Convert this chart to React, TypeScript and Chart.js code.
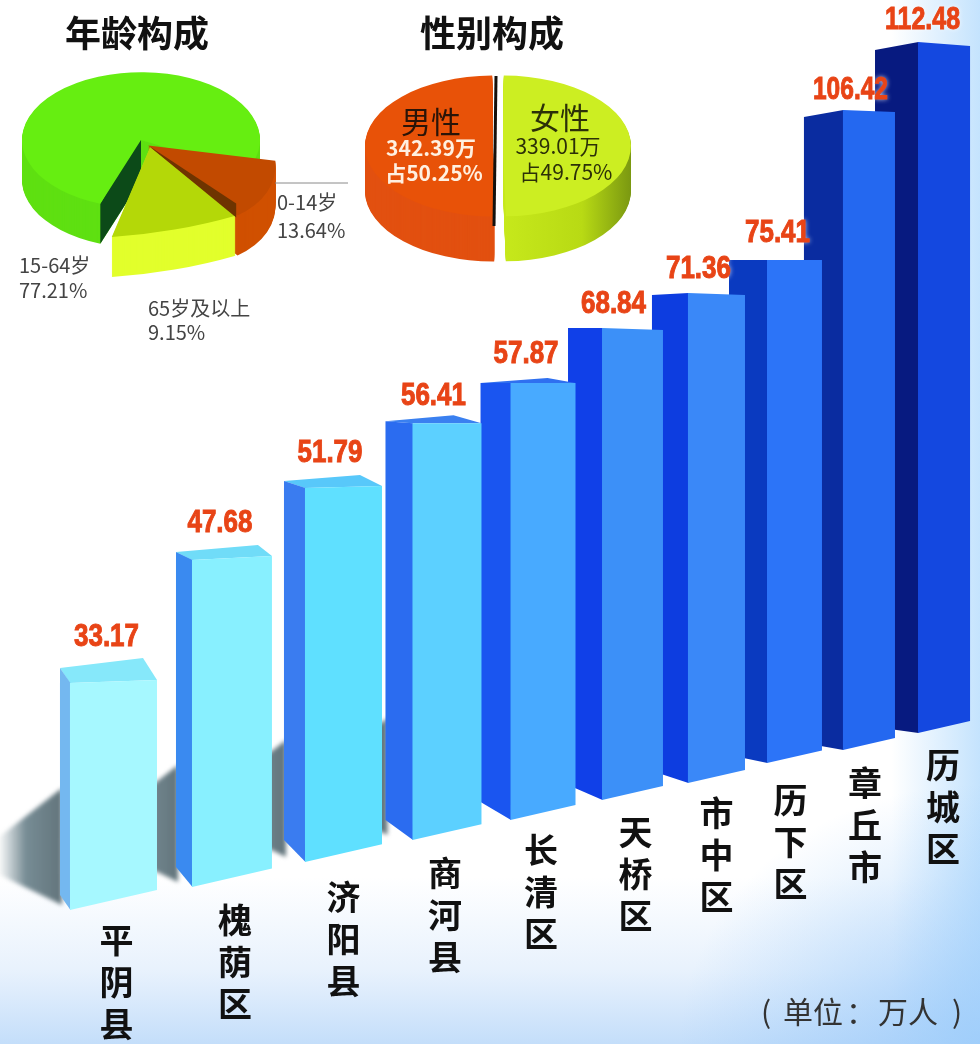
import React, { useEffect, useRef } from "react";
import { Chart, registerables, BarController, BarElement } from "chart.js";

// ---------- data ----------
const districts = ["平阴县", "槐荫区", "济阳县", "商河县", "长清区", "天桥区", "市中区", "历下区", "章丘市", "历城区"];
const population = [33.17, 47.68, 51.79, 56.41, 57.87, 68.84, 71.36, 75.41, 106.42, 112.48];
// as drawn in the perspective picture, in axis units
const floorPositions = [11.58, 23.67, 35.05, 45.61, 55.41, 64.54, 73.11, 81.07, 88.67, 96.33];
const floorWidths = [8.88, 8.16, 7.86, 7.04, 6.63, 6.22, 5.82, 5.61, 5.31, 5.31];
const barFloors = [19.25, 22.56, 26.15, 29.31, 32.18, 35.06, 37.5, 40.37, 42.24, 44.68];
const barTops = [51.87, 69.54, 79.89, 89.2, 94.97, 102.87, 107.9, 112.64, 134.2, 143.97];

const ageLabels = ["15-64岁", "0-14岁", "65岁及以上"];
const agePercent = [77.21, 13.64, 9.15];
const genderLabels = ["女性", "男性"];
const genderPercent = [49.75, 50.25];
const genderCount = ["339.01万", "342.39万"];

// ---------- styles ----------
const frontColors = ["#a6f8ff", "#88f0ff", "#5fe0ff", "#5cd0ff", "#48aaff", "#3c90f8", "#3a88f8", "#2c74f8", "#2468f0", "#1448e0"];
const sideColors = ["#74b8f0", "#3a8af0", "#3a7cf0", "#2b6cf0", "#1a55f0", "#1040e8", "#0d3de0", "#0a3ac0", "#0a2ca0", "#071a80"];
const topColors = ["#86e8fa", "#70dcf8", "#58c8fa", "#3a80f0", "#2f70f0", "", "", "", "", ""];
const sideWidths = [10, 16, 21, 27, 30, 34, 36, 38, 39, 43];
const sideTopDrop = [-15, -8, -7, -2, 0, 0, 2, 0, 7, 8];
const frontTilt = [-3, -4, -2, 0, 0, 2, 2, 0, 2, 4];
const backShift = [[-14, -22], [-14, -11], [-22, -11], [-28, -8], [-28, -5], null, null, null, null, null];
const sideFloorRise = [15, 20, 22, 20, 18, 15, 12, 8, 7, 6];
const valueGap = [48, 39, 37, 29, 31, 26, 26, 29, 22, 24];
const valueShift = [-2, -4, -3, 0, -2, -2, 0, 2, 1, 0];
const nameDrop = [30, 33, 35, 33, 30, 32, 30, 37, 33, 32];
const nameShift = [3, 3, 0, -2, -2, 3, 0, -4, -4, -1];

class Bar3D extends BarElement {
  static id = "bar3d";
  draw(ctx: CanvasRenderingContext2D) {
    const self = this as any;
    const idx = self.$context.dataIndex;
    const i = districts.length - 1 - idx;
    const xs = self.$context.chart.scales.x;
    const w = xs.getPixelForValue(floorWidths[i]) - xs.getPixelForValue(0);
    const L = self.x - w / 2;
    const R = self.x + w / 2;
    const top = self.y;
    const floor = self.base;
    const slant = w * 0.23;
    const sx = L - sideWidths[i];
    const poly = (pts: number[][], fill: any) => {
      ctx.beginPath();
      pts.forEach((p, k) => (k ? ctx.lineTo(p[0], p[1]) : ctx.moveTo(p[0], p[1])));
      ctx.closePath();
      ctx.fillStyle = fill;
      ctx.fill();
    };
    ctx.save();
    if (i < 4) {
      // cast shadow, to the left of the bar
      const g = ctx.createLinearGradient(sx - 62, 0, sx, 0);
      g.addColorStop(0, "rgba(95,120,130,0)");
      g.addColorStop(0.45, "rgba(95,120,130,0.85)");
      g.addColorStop(1, "rgba(100,118,125,1)");
      (ctx as any).filter = "blur(2px)";
      poly([[sx + 2, floor - 122], [sx - 62, floor - 72], [sx - 62, floor - 36], [sx + 2, floor - 5]], g);
      (ctx as any).filter = "none";
    }
    const sTop = top + sideTopDrop[i];
    const b = backShift[i];
    if (b) {
      poly([[sx, sTop], [L, top], [R, top + frontTilt[i]], [R + b[0], top + frontTilt[i] + b[1]]], topColors[i]);
    }
    poly([[sx, sTop], [L + 0.5, top], [L + 0.5, floor], [sx, floor - sideFloorRise[i]]], sideColors[i]);
    poly([[L, top], [R, top + frontTilt[i]], [R, floor - slant], [L, floor]], frontColors[i]);
    ctx.restore();
  }
}

class Bar3DController extends BarController {
  static id = "bar3d";
  static defaults = { ...(BarController as any).defaults, dataElementType: "bar3d" };
  static overrides = (BarController as any).overrides;
}

Chart.register(...registerables, Bar3D as any, Bar3DController as any);

const CJK = '"Noto Sans CJK SC"';

const barText = {
  id: "barText",
  afterDatasetsDraw(chart: any) {
    const ctx = chart.ctx;
    const meta = chart.getDatasetMeta(0);
    ctx.save();
    ctx.textAlign = "center";
    ctx.textBaseline = "middle";
    meta.data.forEach((el: any, idx: number) => {
      const i = districts.length - 1 - idx;
      const text = population[i].toFixed(2);
      const tx = el.x - sideWidths[i] / 2 + valueShift[i];
      const ty = el.y - valueGap[i] + 2;
      const tw = text.length * 10 + 15;
      ctx.save();
      ctx.font = "bold 32px 'Liberation Sans'";
      ctx.fillStyle = "#e84416";
      ctx.strokeStyle = "#e84416";
      ctx.lineWidth = 1;
      ctx.shadowColor = "rgba(255,255,255,0.9)";
      ctx.shadowBlur = 5;
      ctx.fillText(text, tx, ty, tw);
      ctx.shadowBlur = 0;
      ctx.strokeText(text, tx, ty, tw);
      ctx.restore();
      ctx.font = `bold 34px ${CJK}`;
      ctx.fillStyle = "#111";
      Array.from(districts[i]).forEach((ch, k) => {
        ctx.fillText(ch, el.x + nameShift[i], el.base + nameDrop[i] + k * 42);
      });
    });
    ctx.font = `30px ${CJK}`;
    ctx.fillStyle = "#333";
    ctx.textAlign = "left";
    ctx.fillText("(", 761, 1012);
    ctx.fillText("单位", 783, 1012);
    ctx.fillText("：", 846, 1012);
    ctx.fillText("万人", 878, 1012);
    ctx.fillText(")", 952, 1012);
    ctx.restore();
  },
};

type PieCfg = {
  k: number;
  depth: number;
  sideFills: (ctx: CanvasRenderingContext2D) => any[];
  spread?: (number[] | null)[];
  offsets: number[];
  wall?: (ctx: CanvasRenderingContext2D, chart: any) => void;
  after: (ctx: CanvasRenderingContext2D, chart: any) => void;
};

// perspective foreshortening: draw a slice through an affine map about its apex
const apexOf = (el: any, off: number) => {
  const mid = (el.startAngle + el.endAngle) / 2;
  return [el.x + Math.cos(mid) * off, el.y + Math.sin(mid) * off];
};

const pie3d = (cfg: PieCfg) => {
  let patched = false;
  return {
    id: "pie3d",
    beforeDatasetsDraw(chart: any) {
      const ctx = chart.ctx;
      const arcs = chart.getDatasetMeta(0).data;
      const cx = arcs[0].x;
      const cy = arcs[0].y;
      if (!patched && cfg.spread) {
        patched = true;
        arcs.forEach((el: any, s: number) => {
          const m = cfg.spread![s];
          if (!m) return;
          const base = el.draw.bind(el);
          el.draw = (c: any) => {
            const [ax, ay] = apexOf(el, cfg.offsets[s] / 4);
            c.save();
            c.translate(ax + (m[4] || 0), ay + (m[5] || 0) / cfg.k);
            c.transform(m[0], m[1] / cfg.k, m[2] * cfg.k, m[3], 0, 0);
            c.translate(-ax, -ay);
            base(c);
            c.restore();
          };
        });
      }
      ctx.save();
      ctx.translate(cx, cy);
      ctx.scale(1, cfg.k);
      ctx.translate(-cx, -cy);
      const fills = cfg.sideFills(ctx);
      arcs.forEach((el: any, s: number) => {
        const orig = el.options;
        el.options = Object.assign({}, orig, { backgroundColor: fills[s], borderWidth: 0 });
        for (let d = cfg.depth; d > 0; d -= 1) {
          ctx.save();
          ctx.translate(0, d / cfg.k);
          el.draw(ctx);
          ctx.restore();
        }
        el.options = orig;
        if (cfg.wall && s === 0) cfg.wall(ctx, chart);
      });
    },
    afterDatasetsDraw(chart: any) {
      const ctx = chart.ctx;
      ctx.restore();
      cfg.after(ctx, chart);
    },
  };
};

const drawText = (ctx: any, s: string, x: number, y: number, font: string, color: string, align: CanvasTextAlign = "center") => {
  ctx.font = font;
  ctx.fillStyle = color;
  ctx.textAlign = align;
  ctx.textBaseline = "middle";
  ctx.fillText(s, x, y);
};

const AGE_K = 0.57;
const AGE_DEPTH = 40;
const GENDER_K = 0.55;
const GENDER_DEPTH = 45;
const AGE_OFFSETS = [0, 48, 56];
const AGE_SPREAD = [null, [0.891, -0.198, 0.953, 1.115], [1.774, -0.348, 0.535, 1.121, 10, -1]];

const agePlugin = pie3d({
  k: AGE_K,
  depth: AGE_DEPTH,
  offsets: AGE_OFFSETS,
  spread: AGE_SPREAD,
  sideFills: () => ["#5fe012", "#d05000", "#e2ff2c"],
  wall: (ctx, chart) => {
    const el = chart.getDatasetMeta(0).data[0];
    const d = AGE_DEPTH / AGE_K;
    const rx = el.x + Math.cos(el.startAngle) * el.outerRadius;
    const ry = el.y + Math.sin(el.startAngle) * el.outerRadius;
    ctx.beginPath();
    ctx.moveTo(el.x, el.y - 10);
    ctx.lineTo(rx, ry);
    ctx.lineTo(rx, ry + d);
    ctx.lineTo(el.x, el.y + d);
    ctx.closePath();
    ctx.fillStyle = "#0c4a18";
    ctx.fill();
  },
  after: (ctx, chart) => {
    // dark inner edge of the red slice, along its border with the yellow one
    const red = chart.getDatasetMeta(0).data[1];
    const m = AGE_SPREAD[1] as number[];
    const off = AGE_OFFSETS[1] / 4;
    const [ax, ayU] = apexOf(red, off);
    const ay = red.y + (ayU - red.y) * AGE_K;
    const r = red.outerRadius + off * 0.245;
    const ex = Math.cos(red.endAngle) * r;
    const ey = Math.sin(red.endAngle) * r * AGE_K;
    const px = ax + m[0] * ex + m[2] * ey;
    const py = ay + m[1] * ex + m[3] * ey;
    ctx.beginPath();
    ctx.moveTo(ax, ay);
    ctx.lineTo(px - 1, py - 12);
    ctx.lineTo(px - 1, py + 2);
    ctx.closePath();
    ctx.fillStyle = "#6e3400";
    ctx.fill();

    drawText(ctx, "年龄构成", 137, 33, `bold 36px ${CJK}`, "#111");
    ctx.strokeStyle = "#8a8a8a";
    ctx.lineWidth = 1;
    ctx.beginPath();
    ctx.moveTo(275, 183);
    ctx.lineTo(348, 183);
    ctx.stroke();
    const f = `20px ${CJK}`;
    drawText(ctx, ageLabels[1], 277, 202, f, "#444", "left");
    drawText(ctx, `${agePercent[1].toFixed(2)}%`, 277, 230, f, "#444", "left");
    drawText(ctx, ageLabels[0], 19, 265, f, "#444", "left");
    drawText(ctx, `${agePercent[0].toFixed(2)}%`, 19, 290, f, "#444", "left");
    drawText(ctx, ageLabels[2], 148, 308, f, "#444", "left");
    drawText(ctx, `${agePercent[2].toFixed(2)}%`, 148, 332, f, "#444", "left");
  },
});

const genderPlugin = pie3d({
  k: GENDER_K,
  depth: GENDER_DEPTH,
  offsets: [20, 20],
  sideFills: (ctx) => {
    const g = ctx.createLinearGradient(140, 0, 285, 0);
    g.addColorStop(0, "#c8ea1c");
    g.addColorStop(0.6, "#b8da14");
    g.addColorStop(1, "#6f8c10");
    return [g, "#e25010"];
  },
  after: (ctx, chart) => {
    const male = chart.getDatasetMeta(0).data[1];
    const edge = male.x - 3;
    ctx.strokeStyle = "#14100c";
    ctx.lineWidth = 3;
    ctx.beginPath();
    ctx.moveTo(edge + 1, 76);
    ctx.lineTo(edge - 1, 226);
    ctx.stroke();
    drawText(ctx, "性别构成", 142, 33, `bold 36px ${CJK}`, "#111");
    const big = `30px ${CJK}`;
    const small = `bold 21px ${CJK}`;
    drawText(ctx, genderLabels[1], 81, 122, big, "#2a1408");
    drawText(ctx, genderCount[1], 81, 148, small, "#fff0e0");
    drawText(ctx, `占${genderPercent[1].toFixed(2)}%`, 84, 173, small, "#fff0e0");
    drawText(ctx, genderLabels[0], 210, 118, big, "#2c3008");
    drawText(ctx, genderCount[0], 208, 146, `21px ${CJK}`, "#2c3008");
    drawText(ctx, `占${genderPercent[0].toFixed(2)}%`, 216, 172, `21px ${CJK}`, "#2c3008");
  },
});

const hidden = { legend: { display: false }, tooltip: { enabled: false }, title: { display: false } };

export default function App() {
  const barRef = useRef<HTMLCanvasElement>(null);
  const ageRef = useRef<HTMLCanvasElement>(null);
  const genderRef = useRef<HTMLCanvasElement>(null);

  useEffect(() => {
    document.body.style.margin = "0";
    const bars = new Chart(barRef.current!, {
      type: "bar3d" as any,
      data: {
        // farthest bar first, so nearer bars overlap it
        datasets: [
          {
            data: districts
              .map((_, i) => ({ x: floorPositions[i], y: [barFloors[i], barTops[i]] }))
              .reverse() as any,
            backgroundColor: frontColors.slice().reverse(),
          },
        ],
      },
      options: {
        animation: false,
        responsive: false,
        layout: { padding: 0 },
        plugins: hidden as any,
        scales: {
          x: { type: "linear", min: 0, max: 100, display: false, offset: false },
          y: { type: "linear", min: 0, max: 150, display: false },
        },
      },
      plugins: [barText],
    } as any);

    const age = new Chart(ageRef.current!, {
      type: "pie",
      data: {
        labels: ageLabels,
        datasets: [
          {
            data: agePercent,
            backgroundColor: ["#66ee11", "#c24a00", "#b4d808"],
            borderWidth: 0,
            offset: AGE_OFFSETS,
            clip: false,
          } as any,
        ],
      },
      options: {
        animation: false,
        responsive: false,
        rotation: -160,
        radius: 119,
        layout: { padding: { right: 78, bottom: 70 } },
        plugins: hidden as any,
      },
      plugins: [agePlugin],
    } as any);

    const gender = new Chart(genderRef.current!, {
      type: "pie",
      data: {
        labels: genderLabels,
        datasets: [
          {
            data: genderPercent,
            backgroundColor: ["#ccee22", "#e85208"],
            borderWidth: 0,
            offset: [20, 20],
            clip: false,
          } as any,
        ],
      },
      options: {
        animation: false,
        responsive: false,
        rotation: 0,
        radius: 123,
        layout: { padding: { bottom: 0, right: 4, left: 0, top: 12 } },
        plugins: hidden as any,
      },
      plugins: [genderPlugin],
    } as any);

    return () => {
      bars.destroy();
      age.destroy();
      gender.destroy();
    };
  }, []);

  const abs = { position: "absolute" as const, display: "block" };
  return (
    <div
      style={{
        position: "absolute",
        left: 0,
        top: 0,
        width: 980,
        height: 1044,
        overflow: "hidden",
        background:
          "radial-gradient(ellipse 300px 260px at 100% 100%, rgba(150,200,250,0.75), rgba(150,200,250,0)), linear-gradient(to left, rgba(190,224,253,0.9), rgba(190,224,253,0) 9%), linear-gradient(to top, rgba(196,222,250,1), rgba(222,236,252,0.7) 7%, rgba(255,255,255,0) 16%), #fff",
      }}
    >
      <canvas ref={barRef} width={980} height={1044} style={{ ...abs, left: 0, top: 0 }} />
      <canvas ref={ageRef} width={360} height={350} style={{ ...abs, left: 0, top: 0 }} />
      <canvas ref={genderRef} width={300} height={280} style={{ ...abs, left: 350, top: 0 }} />
    </div>
  );
}
